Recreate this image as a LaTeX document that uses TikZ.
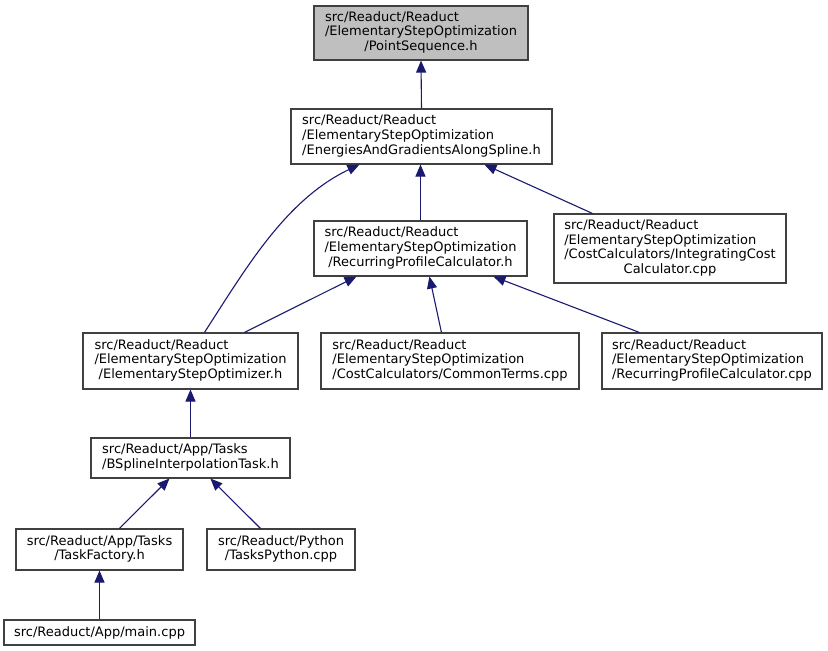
\documentclass[tikz,border=0pt]{standalone}
\usepackage{fontspec}
\setmainfont{DejaVu Sans}
\usetikzlibrary{arrows.meta}
\definecolor{edgeblue}{HTML}{191970}
\definecolor{boxline}{HTML}{404040}
\tikzset{
  fbox/.style={draw=boxline, line width=1.1pt, rectangle, inner sep=0pt, fill=white,
    font=\fontsize{13}{14.7}\selectfont},
  arr/.style={draw=edgeblue, line width=1.1pt, -{Triangle[length=12pt,width=10pt]}}
}
\newcommand{\lns}[2]{\begin{tabular}{@{}l@{}}#1\\\multicolumn{1}{@{}c@{}}{#2}\end{tabular}}
\begin{document}
\begin{tikzpicture}[x=1pt,y=-1pt]
\useasboundingbox (0,0) rectangle (828,651);
\node[fbox, fill={rgb,255:red,191;green,191;blue,191}, minimum width=214pt, minimum height=54pt] (n1) at (421,33)
  {\lns{src/Readuct/Readuct\\/ElementaryStepOptimization}{/PointSequence.h}};
\node[fbox, minimum width=261pt, minimum height=55pt] (n2) at (421.5,136.5)
  {\lns{src/Readuct/Readuct\\/ElementaryStepOptimization}{/EnergiesAndGradientsAlongSpline.h}};
\node[fbox, minimum width=213pt, minimum height=55pt] (n3) at (420.5,248.5)
  {\lns{src/Readuct/Readuct\\/ElementaryStepOptimization}{/RecurringProfileCalculator.h}};
\node[fbox, minimum width=232pt, minimum height=69pt] (n4) at (670,248.5)
  {\lns{src/Readuct/Readuct\\/ElementaryStepOptimization\\/CostCalculators/IntegratingCost}{Calculator.cpp}};
\node[fbox, minimum width=215pt, minimum height=56pt] (n5) at (190.5,361)
  {\lns{src/Readuct/Readuct\\/ElementaryStepOptimization}{/ElementaryStepOptimizer.h}};
\node[fbox, minimum width=258pt, minimum height=56pt] (n6) at (450,361)
  {\lns{src/Readuct/Readuct\\/ElementaryStepOptimization}{/CostCalculators/CommonTerms.cpp}};
\node[fbox, minimum width=220pt, minimum height=56pt] (n7) at (712,361)
  {\lns{src/Readuct/Readuct\\/ElementaryStepOptimization}{/RecurringProfileCalculator.cpp}};
\node[fbox, minimum width=199pt, minimum height=40pt] (n8) at (190.5,458)
  {\lns{src/Readuct/App/Tasks}{/BSplineInterpolationTask.h}};
\node[fbox, minimum width=167pt, minimum height=41pt] (n9) at (99.5,549.5)
  {\lns{src/Readuct/App/Tasks}{/TaskFactory.h}};
\node[fbox, minimum width=148pt, minimum height=41pt] (n10) at (281,549.5)
  {\lns{src/Readuct/Python}{/TasksPython.cpp}};
\node[fbox, minimum width=191pt, minimum height=25pt] (n11) at (99.5,632.5)
  {src/Readuct/App/main.cpp};

\draw[arr] (n2.north) -- (n1.south);
\draw[arr] (n3.north) -- (n3.north |- n2.south);
\draw[arr] ([xshift=39pt]n4.north west) -- ([xshift=194pt]n2.south west);
\draw[arr] ([xshift=122pt]n5.north west) .. controls (245,270) and (285,200) .. ([xshift=69pt]n2.south west);
\draw[arr] ([xshift=162pt]n5.north west) -- ([xshift=43pt]n3.south west);
\draw[arr] ([xshift=121pt]n6.north west) -- ([xshift=116pt]n3.south west);
\draw[arr] ([xshift=38pt]n7.north west) -- ([xshift=180pt]n3.south west);
\draw[arr] (n8.north -| n5.south) -- (n5.south);
\draw[arr] ([xshift=104pt]n9.north west) -- ([xshift=79pt]n8.south west);
\draw[arr] ([xshift=54pt]n10.north west) -- ([xshift=120pt]n8.south west);
\draw[arr] (n11.north -| n9.south) -- (n9.south);
\end{tikzpicture}
\end{document}
